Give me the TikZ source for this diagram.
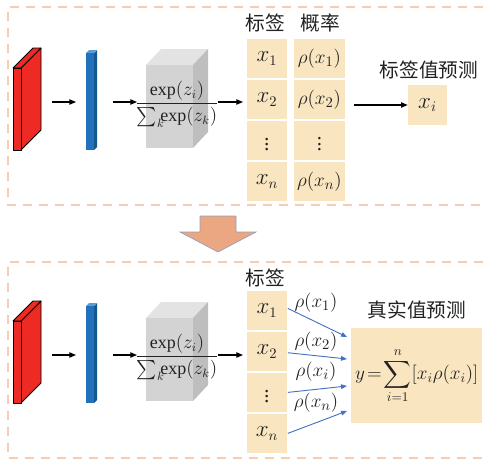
\documentclass[tikz,border=0pt]{standalone}
\usepackage{amsmath}
\usepackage{fontspec}
\setmainfont{Liberation Serif}
\newfontfamily\cjk{Noto Sans CJK SC}
\usetikzlibrary{arrows.meta}
\definecolor{dashc}{HTML}{F6CDB0}
\definecolor{redc}{HTML}{EE2A24}
\definecolor{bluef}{HTML}{2271BC}
\definecolor{blues}{HTML}{17568F}
\definecolor{bluet}{HTML}{5A9AD6}
\definecolor{cubef}{HTML}{D3D3D3}
\definecolor{cubet}{HTML}{E3E3E3}
\definecolor{cubes}{HTML}{BEBEBE}
\definecolor{tanc}{HTML}{F9E5C0}
\definecolor{orgc}{HTML}{EBA782}
\definecolor{orgd}{HTML}{8EA0C0}
\definecolor{bluea}{HTML}{4472C4}
\definecolor{txt}{HTML}{222222}
\begin{document}
\begin{tikzpicture}[x=0.75pt,y=-0.75pt,
  dashbox/.style={draw=dashc, line width=1pt, dash pattern=on 7pt off 5pt},
  blk/.style={-{Triangle[length=5pt,width=4pt]}, line width=0.8pt},
  barr/.style={-{Triangle[length=4.5pt,width=3.5pt]}, draw=bluea, line width=0.7pt},
  cellA/.style={fill=tanc, draw=white, line width=0.6pt, minimum width=30.75pt, minimum height=30pt, inner sep=0pt, anchor=north west, font=\fontsize{16}{18}\selectfont, text=txt},
  cellB/.style={cellA, minimum width=39pt, font=\fontsize{15.5}{18}\selectfont},
  head/.style={font=\cjk\fontsize{14.75}{17}\selectfont, text=txt, inner sep=0pt},
  mathlbl/.style={font=\fontsize{15.5}{18}\selectfont, text=txt, inner sep=0pt},
  outl/.style={draw=black, line width=0.6pt, line join=round}]
\useasboundingbox (0,0) rectangle (483,464);

% dashed frames
\draw[dashbox] (483,7) -- (8,7) -- (8,205) -- (483,205);
\draw[dashbox] (483,262) -- (8,262) -- (8,458) -- (483,458);

\foreach \dy/\s in {0/a,253/b} {
\begin{scope}[shift={(0,\dy)}]
  % red block
  \filldraw[fill=redc, outl] (21,68) -- (41,48) -- (41,130) -- (21,150) -- cycle;
  \filldraw[fill=redc, outl] (13,68) -- (33,48) -- (41,48) -- (21,68) -- cycle;
  \filldraw[fill=redc, outl] (13,68) rectangle (21,150);
  % blue bar
  \fill[blues] (94,53) -- (97,50) -- (97,147) -- (94,150) -- cycle;
  \fill[bluet] (86,53) -- (89,50) -- (97,50) -- (94,53) -- cycle;
  \fill[bluef] (86,53) rectangle (94,150);
  % cube
  \fill[cubet] (146,65) -- (161,49) -- (208,49) -- (193,65) -- cycle;
  \fill[cubes] (193,65) -- (208,49) -- (208,132) -- (193,148) -- cycle;
  \fill[cubef] (146,65) rectangle (193,148);
  \node[mathlbl, font=\fontsize{13.5}{16}\selectfont] (frac\s) at (177,104) {$\dfrac{\exp(z_i)}{{\textstyle\sum_k}\mkern-4mu\mathrm{exp}(z_k)}$};
  % arrows
  \coordinate (s1\s) at (52,102); \coordinate (t1\s) at (76,102);
  \coordinate (s2\s) at (113,102); \coordinate (t2\s) at (137,102);
  \coordinate (s3\s) at (218,102); \coordinate (t3\s) at (243,102);
  \draw[blk] (s1\s) -- (t1\s);
  \draw[blk] (s2\s) -- (t2\s);
  \draw[blk] (s3\s) -- (t3\s);
\end{scope}
}

% ---- top right
\node[head] (hla) at (265,23) {标签};
\node[head] (hpa) at (320,23) {概率};
\node[cellA] (la1) at (246,38) {$x_1$};
\node[cellA] (la2) at (246,79) {$x_2$};
\node[cellA] (la3) at (246,120) {$\vdots$};
\node[cellA] (la4) at (246,161) {$x_n$};
\node[cellB] (pa1) at (293,38) {$\rho(x_1)$};
\node[cellB] (pa2) at (293,79) {$\rho(x_2)$};
\node[cellB] (pa3) at (293,120) {$\vdots$};
\node[cellB] (pa4) at (293,161) {$\rho(x_n)$};
\node[head] (hpred) at (429,70) {标签值预测};
\node[fill=tanc, minimum width=29.25pt, minimum height=30pt, inner sep=0pt, font=\fontsize{16}{18}\selectfont, text=txt] (xi) at (427.5,105) {$x_i$};
\coordinate (pas) at (354,105);
\draw[blk] (pas) -- (xi.west);

% ---- orange arrow
\filldraw[fill=orgc, draw=orgd, line width=0.5pt] (200,216) -- (236,216) -- (236,232) -- (256,232) -- (218,252) -- (180,232) -- (200,232) -- cycle;

% ---- bottom right
\node[head] (hlb) at (265,278) {标签};
\node[cellA] (lb1) at (246,290) {$x_1$};
\node[cellA] (lb2) at (246,331) {$x_2$};
\node[cellA] (lb3) at (246,372) {$\vdots$};
\node[cellA] (lb4) at (246,413) {$x_n$};
\node[head] (htrue) at (417,310) {真实值预测};
\node[fill=tanc, minimum width=98.25pt, minimum height=71.25pt, inner sep=0pt, anchor=north west, font=\fontsize{14}{16}\selectfont, text=txt] (Y) at (351,328) {$y\!=\!\displaystyle\sum_{i=1}^{n}[x_i\rho(x_i)]$};
\coordinate (e1) at (347,337);
\coordinate (e2) at (347,359);
\coordinate (e3) at (347,386);
\coordinate (e4) at (347,411);
\draw[barr] ([yshift=1.5pt]lb1.east) -- (e1);
\draw[barr] ([yshift=-1pt]lb2.east) -- (e2);
\draw[barr] ([yshift=0pt]lb3.east) -- (e3);
\draw[barr] ([yshift=0pt]lb4.east) -- (e4);
\node[mathlbl] (r1) at (316,303) {$\rho(x_1)$};
\node[mathlbl] (r2) at (316,342) {$\rho(x_2)$};
\node[mathlbl] (r3) at (316,372) {$\rho(x_i)$};
\node[mathlbl] (r4) at (316,403) {$\rho(x_n)$};
\end{tikzpicture}
\end{document}
